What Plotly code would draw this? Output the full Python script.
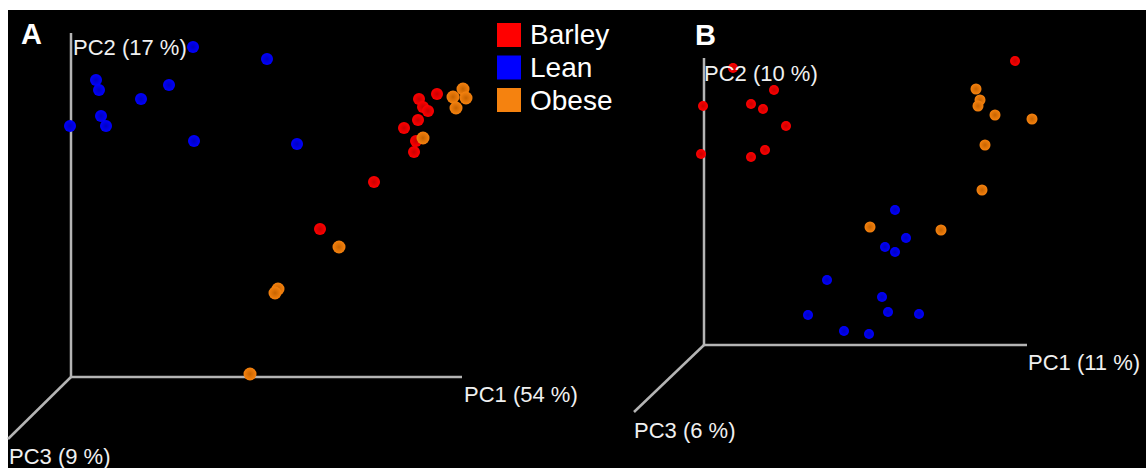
import plotly.graph_objects as go

W, H = 1146, 468

# ---------------- Data (projected PCoA coordinates, origin-relative) -------------
# Panel A
a_barley_x = [366, 348, 352, 357, 347, 333, 345, 343, 303, 249]
a_barley_y = [283, 278, 270, 266, 257, 249, 236, 225, 195, 148]
a_lean_x = [122, 196, 25, 28, 98, 70, 30, 35, -1, 123, 226]
a_lean_y = [330, 318, 297, 287, 292, 278, 261, 251, 251, 236, 233]
a_obese_x = [392, 382, 395, 385, 352, 268, 207, 204, 179]
a_obese_y = [288, 280, 279, 269, 239, 130, 88, 84, 3]

# Panel B
b_barley_x = [311, 29, 70, -1, 47, 59, 82, -3, 47, 61]
b_barley_y = [284, 277, 255, 239, 241, 236, 219, 191, 188, 195]
b_lean_x = [191, 202, 181, 191, 123, 178, 184, 215, 104, 140, 165]
b_lean_y = [135, 107, 98, 93, 65, 48, 33, 31, 30, 14, 11]
b_obese_x = [272, 276, 274, 291, 328, 281, 278, 166, 237]
b_obese_y = [256, 245, 239, 230, 226, 200, 155, 118, 115]

# Axes (end points of drawn PC axes) and labels
a_axis_len = {"PC1": 391, "PC2": 344, "PC3": (-63, -62)}
b_axis_len = {"PC1": 323, "PC2": 287, "PC3": (-70, -67)}
a_labels = ["PC1 (54 %)", "PC2 (17 %)", "PC3 (9 %)"]
b_labels = ["PC1 (11 %)", "PC2 (10 %)", "PC3 (6 %)"]
groups = ["Barley", "Lean", "Obese"]
colors = {"Barley": "#ff0000", "Lean": "#0000ff", "Obese": "#f5820f"}

# --------------------------------------------------------------------------------
fig = go.Figure()
axis_col = "#b4b4b4"


def add_axes(lens, xa, ya):
    L1, L2, (p3x, p3y) = lens["PC1"], lens["PC2"], lens["PC3"]
    for xs, ys in [([0, L1], [0, 0]), ([0, 0], [0, L2]), ([0, p3x], [0, p3y])]:
        fig.add_trace(go.Scatter(x=xs, y=ys, mode="lines", xaxis=xa, yaxis=ya,
                                 line=dict(color=axis_col, width=2.5),
                                 hoverinfo="skip", showlegend=False))


add_axes(a_axis_len, "x", "y")
add_axes(b_axis_len, "x2", "y2")


def add_pts(xs, ys, g, xa, ya, size):
    fig.add_trace(go.Scatter(x=xs, y=ys, mode="markers", xaxis=xa, yaxis=ya, name=g,
                             marker=dict(color=colors[g], size=size, line=dict(width=0),
                                         gradient=dict(type="radial",
                                                       color={"Barley": "#c80000", "Lean": "#0000c0",
                                                              "Obese": "#c86400"}[g])),
                             showlegend=False))


add_pts(a_lean_x, a_lean_y, "Lean", "x", "y", 12)
add_pts(a_barley_x, a_barley_y, "Barley", "x", "y", 12)
add_pts(a_obese_x, a_obese_y, "Obese", "x", "y", 13)
add_pts(b_barley_x, b_barley_y, "Barley", "x2", "y2", 10)
add_pts(b_lean_x, b_lean_y, "Lean", "x2", "y2", 10)
add_pts(b_obese_x, b_obese_y, "Obese", "x2", "y2", 11)

# axis ranges so that panel origins sit where they do in the figure
ax_common = dict(visible=False, showgrid=False, zeroline=False, fixedrange=True)
fig.update_layout(
    width=W, height=H,
    margin=dict(l=0, r=0, t=0, b=0),
    paper_bgcolor="white", plot_bgcolor="rgba(0,0,0,0)",
    xaxis=dict(domain=[0, 1], range=[-71, W - 71], **ax_common),
    yaxis=dict(domain=[0, 1], range=[-(H - 377), 377], **ax_common),
    xaxis2=dict(domain=[0, 1], range=[-704, W - 704], overlaying="x", **ax_common),
    yaxis2=dict(domain=[0, 1], range=[-(H - 345), 345], overlaying="y", anchor="x2", **ax_common),
    showlegend=False,
)

# black panel background
fig.add_shape(type="rect", xref="paper", yref="paper", x0=8 / W, x1=1, y0=0, y1=1 - 10 / H,
              fillcolor="black", line=dict(width=0), layer="below")

font_lab = dict(family="Liberation Sans, Arial", size=22, color="#f0f0f0")


def lab(text, x, y, xa, ya):
    fig.add_annotation(text=text, x=x, y=y, xref=xa, yref=ya, xanchor="left", yanchor="middle",
                       showarrow=False, font=font_lab, borderpad=0)


lab(a_labels[0], 392, -17, "x", "y")
lab(a_labels[1], 1, 330, "x", "y")
lab(a_labels[2], -63, -79, "x", "y")
lab(b_labels[0], 323, -17, "x2", "y2")
lab(b_labels[1], -1, 272, "x2", "y2")
lab(b_labels[2], -71, -85, "x2", "y2")

# panel letters
for t, px, py in [("A", 20, 34), ("B", 694, 35)]:
    fig.add_annotation(text="<b>%s</b>" % t, x=px / W, y=1 - py / H, xref="paper", yref="paper",
                       xanchor="left", yanchor="middle", showarrow=False, borderpad=0,
                       font=dict(family="Liberation Sans, Arial", size=29, color="white"))

# legend (square swatches + labels)
for i, g in enumerate(groups):
    cy = 35 + i * 32.5
    fig.add_shape(type="rect", xref="paper", yref="paper",
                  x0=497 / W, x1=521 / W, y0=1 - (cy + 12) / H, y1=1 - (cy - 12) / H,
                  fillcolor=colors[g], line=dict(width=0))
    fig.add_annotation(text=g, x=529 / W, y=1 - cy / H, xref="paper", yref="paper",
                       xanchor="left", yanchor="middle", showarrow=False, borderpad=0,
                       font=dict(family="Liberation Sans, Arial", size=28, color="white"))

fig.write_html("out.html", config={"displayModeBar": False})
